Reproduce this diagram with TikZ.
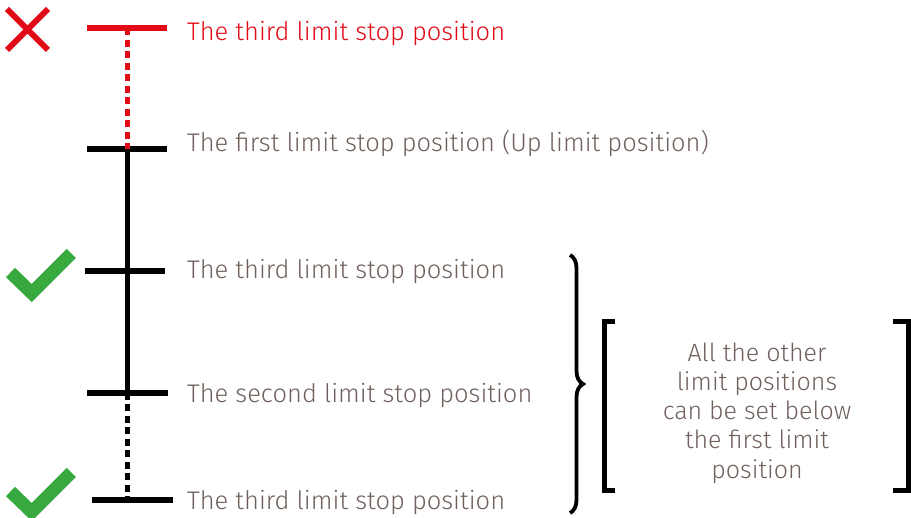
\documentclass[tikz,border=0pt]{standalone}
\usepackage{fontspec}
\setmainfont{Fira Sans Light}
\usetikzlibrary{decorations.pathreplacing}
\definecolor{stopred}{HTML}{E30A17}
\definecolor{okgreen}{HTML}{37A93F}
\definecolor{labelgray}{HTML}{6F605B}

\begin{document}
\begin{tikzpicture}[x=1pt, y=-1pt,
        bar/.style={line width=6pt},
        rail/.style={line width=5pt},
        dots/.style={line width=5pt, dash pattern=on 7pt off 4.5pt},
        tick/.style={line width=13pt, okgreen},
        cross/.style={line width=6pt, stopred},
        label/.style={anchor=base west, inner sep=0pt, text=labelgray,
            font=\fontsize{25.5}{25.5}\selectfont}]

            \useasboundingbox (0,0) rectangle (911,518);

            %Stop positions
            \coordinate (up3) at (127,28.5);
            \coordinate (up1) at (127,149);
            \coordinate (mid3) at (127,271);
            \coordinate (low2) at (127,393);
            \coordinate (low3) at (127,500);

            %Bars
            \draw[bar, stopred] (87,28.5) -- (167,28.5);
            \draw[bar] (87,149) -- (167,149);
            \draw[bar] (85,271) -- (165,271);
            \draw[bar] (87,393) -- (168,393);
            \draw[bar] (92,500) -- (173,500);

            %Rails between bars
            \draw[dots, stopred] (up3) -- (up1);
            \draw[rail] (up1) -- (low2);
            \draw[dots] (low2) -- (low3);

            %Marks
            \draw[cross] (7,9) -- (48,50);
            \draw[cross] (48,9) -- (7,50);
            \draw[tick] (10.5,272.5) -- (31.7,293) -- (71.3,253.5);
            \draw[tick] (10.5,491.5) -- (31.7,512) -- (71.3,472.5);

            %Labels
            \node[label, text=stopred] (lup3) at (187,41) {The third limit stop position};
            \node[label] (lup1) at (187,152) {The first limit stop position (Up limit position)};
            \node[label] (lmid3) at (187,279) {The third limit stop position};
            \node[label] (llow2) at (187,403) {The second limit stop position};
            \node[label] (llow3) at (187,510) {The third limit stop position};

            %Brace and note
            \draw[line width=3.8pt, decorate, decoration={brace, amplitude=13pt}] (570,255) -- (570,513);
            \node[align=center, text=labelgray, inner sep=0pt,
                font=\fontsize{25}{29.2}\selectfont] (note) at (757,413)
                {All the other\\limit positions\\can be set below\\the first limit\\position};
            \draw[line width=5pt] (615,322) -- (604.5,322) -- (604.5,491) -- (615,491);
            \draw[line width=5pt] (893,322) -- (908.5,322) -- (908.5,491) -- (893,491);

\end{tikzpicture}
\end{document}
